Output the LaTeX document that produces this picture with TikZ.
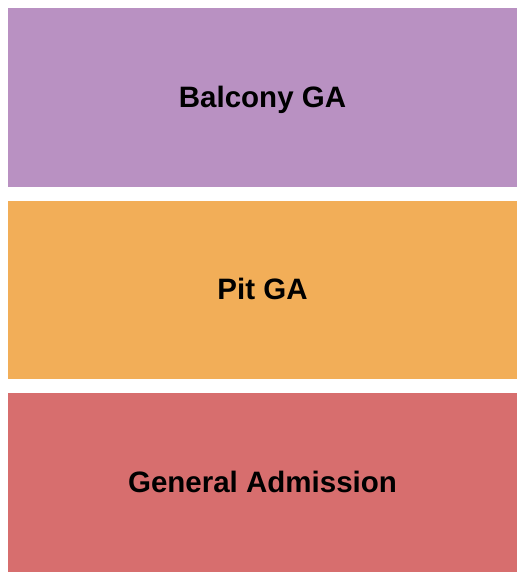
\documentclass[tikz,border=0pt]{standalone}
\usepackage{fontspec}
\setmainfont{Liberation Sans}
\definecolor{balcony}{RGB}{185,145,194}
\definecolor{pit}{RGB}{242,174,88}
\definecolor{general}{RGB}{215,110,110}

\begin{document}
\begin{tikzpicture}[x=1pt,y=-1pt,
  section/.style={minimum width=509pt, minimum height=178.5pt, inner sep=0pt},
  sectionlabel/.style={anchor=base, inner sep=0pt, font=\bfseries\fontsize{29.5}{34}\selectfont}]
\useasboundingbox[fill=white] (0,0) rectangle (525,580);
\node[section, fill=balcony] (balcony) at (262.5,97.25) {};
\node[section, fill=pit] (pit) at (262.5,290) {};
\node[section, fill=general] (general) at (262.5,482.5) {};
\node[sectionlabel] (balconyname) at (262.5,107.7) {Balcony GA};
\node[sectionlabel] (pitname) at (262.5,299) {Pit GA};
\node[sectionlabel] (generalname) at (262.5,492.7) {General Admission};
\end{tikzpicture}
\end{document}
